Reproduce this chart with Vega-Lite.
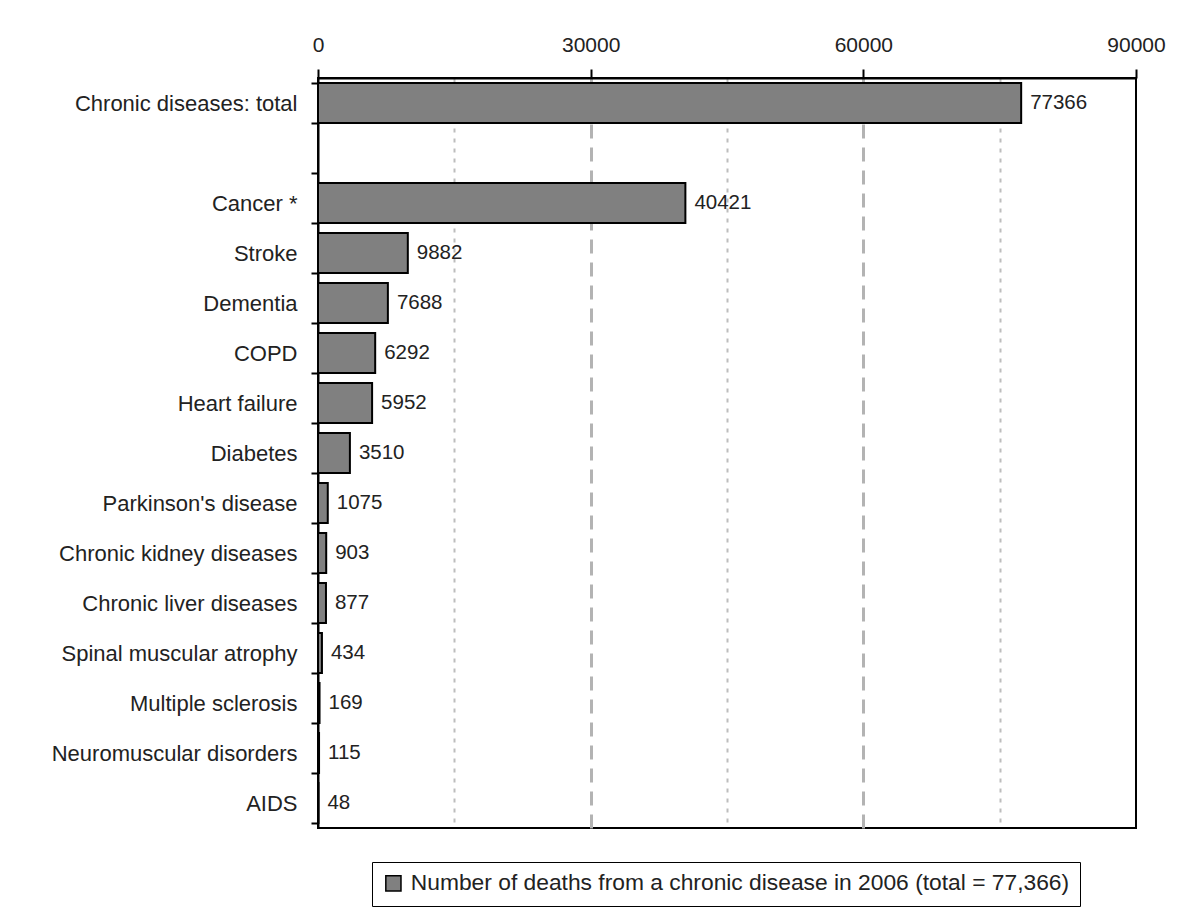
{
  "$schema": "https://vega.github.io/schema/vega-lite/v6.json",
  "width": 818,
  "height": 750,
  "autosize": "none",
  "padding": {"left": 318, "top": 78, "right": 60, "bottom": 79},
  "background": "white",
  "data": {
    "values": [
      {"disease": "Chronic diseases: total", "deaths": 77366},
      {"disease": "Cancer *", "deaths": 40421},
      {"disease": "Stroke", "deaths": 9882},
      {"disease": "Dementia", "deaths": 7688},
      {"disease": "COPD", "deaths": 6292},
      {"disease": "Heart failure", "deaths": 5952},
      {"disease": "Diabetes", "deaths": 3510},
      {"disease": "Parkinson's disease", "deaths": 1075},
      {"disease": "Chronic kidney diseases", "deaths": 903},
      {"disease": "Chronic liver diseases", "deaths": 877},
      {"disease": "Spinal muscular atrophy", "deaths": 434},
      {"disease": "Multiple sclerosis", "deaths": 169},
      {"disease": "Neuromuscular disorders", "deaths": 115},
      {"disease": "AIDS", "deaths": 48}
    ]
  },
  "encoding": {
    "y": {
      "field": "disease",
      "type": "nominal",
      "title": null,
      "scale": {
        "domain": ["Chronic diseases: total", " ", "Cancer *", "Stroke", "Dementia", "COPD", "Heart failure", "Diabetes", "Parkinson's disease", "Chronic kidney diseases", "Chronic liver diseases", "Spinal muscular atrophy", "Multiple sclerosis", "Neuromuscular disorders", "AIDS"],
        "paddingInner": 0.2,
        "paddingOuter": 0.1
      },
      "axis": {
        "tickBand": "extent",
        "tickSize": 7,
        "labelPadding": 14,
        "labelFontSize": 22,
        "labelLimit": 400,
        "grid": false
      }
    },
    "x": {
      "field": "deaths",
      "type": "quantitative",
      "title": null,
      "scale": {"domain": [0, 90000], "nice": false},
      "axis": {
        "orient": "top",
        "values": [0, 15000, 30000, 45000, 60000, 75000, 90000],
        "format": "d",
        "labelExpr": "datum.value % 30000 === 0 ? datum.label : ''",
        "labelFlush": false,
        "tickSize": 9,
        "tickOpacity": {"condition": {"test": "datum.value % 30000 === 0", "value": 1}, "value": 0},
        "labelPadding": 14,
        "labelFontSize": 21,
        "grid": true,
        "gridOpacity": {"condition": {"test": "datum.value === 0 || datum.value === 90000", "value": 0}, "value": 1},
        "gridDash": {"condition": {"test": "datum.value % 30000 === 0", "value": [14, 9]}, "value": [4, 6]},
        "gridWidth": {"condition": {"test": "datum.value % 30000 === 0", "value": 3}, "value": 2},
        "gridColor": {"condition": {"test": "datum.value % 30000 === 0", "value": "#b3b3b3"}, "value": "#bdbdbd"}
      }
    }
  },
  "layer": [
    {
      "mark": {"type": "bar", "stroke": "black", "strokeWidth": 2},
      "encoding": {
        "color": {
          "datum": "Number of deaths from a chronic disease in 2006 (total = 77,366)",
          "scale": {"range": ["#808080"]},
          "legend": {
            "title": null,
            "orient": "none",
            "legendX": 54,
            "legendY": 784,
            "symbolType": "square",
            "symbolSize": 230,
            "symbolStrokeColor": "black",
            "symbolStrokeWidth": 1.5,
            "labelFontSize": 22.8,
            "labelLimit": 900,
            "labelOffset": 6,
            "strokeColor": "black",
            "padding": 10
          }
        }
      }
    },
    {
      "mark": {"type": "text", "align": "left", "baseline": "middle", "dx": 9, "fontSize": 20.5, "color": "#222222"},
      "encoding": {
        "text": {"field": "deaths", "type": "quantitative", "format": "d"}
      }
    }
  ],
  "config": {
    "font": "Liberation Sans Narrow, Arial Narrow, Liberation Sans",
    "view": {"stroke": "black", "strokeWidth": 2},
    "axis": {
      "domainColor": "black",
      "domainWidth": 2,
      "tickColor": "black",
      "tickWidth": 2,
      "labelColor": "#222222"
    },
    "legend": {"labelColor": "#222222"}
  }
}
